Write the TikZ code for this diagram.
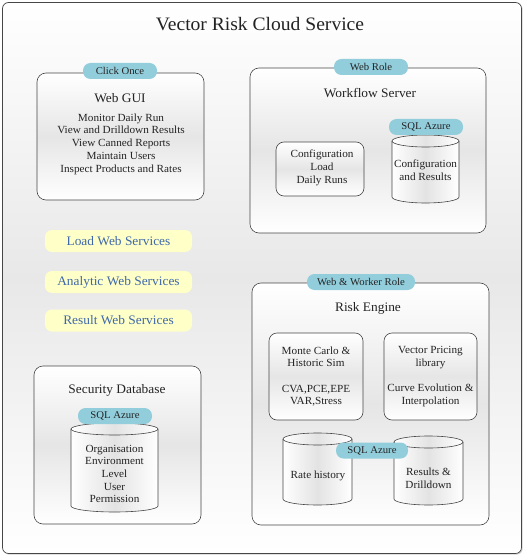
\documentclass[tikz,border=0pt]{standalone}
\usepackage{fontspec}
\setmainfont{Liberation Serif}[FakeStretch=1.03]
\usetikzlibrary{shadows}
\definecolor{pillblue}{RGB}{146,205,220}
\definecolor{svcyellow}{RGB}{255,255,200}
\definecolor{svcblue}{RGB}{62,104,170}
\definecolor{inkgray}{RGB}{35,35,35}
\definecolor{edgegray}{RGB}{70,70,70}
\tikzset{
  frame/.style={draw=edgegray, line width=0.7pt, rounded corners=6pt,
    top color=white, bottom color=white, middle color=gray!18,
    drop shadow={shadow xshift=1.2pt, shadow yshift=-1.2pt, opacity=0.35}},
  box/.style={draw=edgegray, line width=0.6pt, rounded corners=9pt,
    top color=white, bottom color=white, middle color=gray!20, inner sep=0pt},
  pill/.style={fill=pillblue, rounded corners=7.5pt, inner sep=0pt,
    text=inkgray, font=\fontsize{10.4}{12}\selectfont},
  svc/.style={fill=svcyellow, rounded corners=7pt, inner sep=0pt,
    text=svcblue, font=\fontsize{13}{15}\selectfont},
  ttl/.style={text=inkgray, font=\fontsize{13}{15}\selectfont, inner sep=0pt},
  body/.style={text=inkgray, font=\fontsize{10.9}{12.7}\selectfont, align=center, inner sep=0pt},
  cylline/.style={draw=edgegray, line width=0.6pt},
  cylfill/.style={left color=white, right color=white, middle color=gray!22}
}
% name, x centre, y top, y bottom, x radius
\newcommand\drawcylinder[5]{%
  \coordinate (#1) at (#2,{(#3+#4)/2});
  \path[cylline, cylfill] ({#2-#5},{#3+6}) arc[start angle=180, end angle=0, x radius=#5pt, y radius=6pt]
     -- ({#2+#5},{#4-6}) arc[start angle=360, end angle=180, x radius=#5pt, y radius=6pt] -- cycle;
  \draw[cylline] ({#2-#5},{#3+6}) arc[start angle=180, end angle=360, x radius=#5pt, y radius=6pt];
}
\begin{document}
\begin{tikzpicture}[x=1pt, y=-1pt]
\useasboundingbox (0,0) rectangle (524,556);
% outer frame
\node[frame, minimum width=519pt, minimum height=551pt, inner sep=0pt] (outer) at (262,278) {};
\node[text=inkgray, font=\fontsize{19}{22}\selectfont, inner sep=0pt] (title) at (260,24) {Vector Risk Cloud Service};

% Web GUI
\node[box, minimum width=167pt, minimum height=127pt] (webgui) at (120.5,136.5) {};
\node[pill, minimum width=74pt, minimum height=16pt] (clickonce) at (120,71) {Click Once};
\node[ttl] (webguititle) at (120,98) {Web GUI};
\node[body] (webguitext) at (121,144) {Monitor Daily Run\\View and Drilldown Results\\View Canned Reports\\Maintain Users\\Inspect Products and Rates};

% Workflow server
\node[box, minimum width=236pt, minimum height=165pt] (wfs) at (368,150.5) {};
\node[pill, minimum width=74pt, minimum height=16pt] (webrole) at (371,67) {Web Role};
\node[ttl] (wfstitle) at (370,93) {Workflow Server};
\node[box, rounded corners=8pt, minimum width=88pt, minimum height=54pt] (cfgbox) at (320,169) {};
\node[body] (cfgtext) at (322,168) {Configuration\\Load\\Daily Runs};
\drawcylinder{cfgcyl}{425.5}{135}{203}{33.5}
\node[pill, minimum width=74pt, minimum height=16pt] (sqlwfs) at (426,127) {SQL Azure};
\node[body] (cfgcyltext) at (425.5,170.5) {Configuration\\and Results};

% Web services
\node[svc, minimum width=147pt, minimum height=22pt] (loadws) at (118.5,241) {Load Web Services};
\node[svc, minimum width=147pt, minimum height=22pt] (analyticws) at (118.5,282) {Analytic Web Services};
\node[svc, minimum width=147pt, minimum height=22pt] (resultws) at (118.5,320.5) {Result Web Services};

% Security Database
\node[box, minimum width=167pt, minimum height=158pt] (secdb) at (117.5,445) {};
\node[ttl] (secdbtitle) at (117,390) {Security Database};
\drawcylinder{seccyl}{114.5}{423}{512}{43.5}
\node[pill, minimum width=74pt, minimum height=16pt] (sqlsec) at (115,416) {SQL Azure};
\node[body] (seccyltext) at (114.5,474) {Organisation\\Environment\\Level\\User\\Permission};

% Risk Engine
\node[box, minimum width=237pt, minimum height=242pt] (risk) at (370.5,404) {};
\node[pill, minimum width=108pt, minimum height=16pt] (webworker) at (361,282) {Web \& Worker Role};
\node[ttl] (risktitle) at (368,308) {Risk Engine};
\node[box, rounded corners=8pt, minimum width=94pt, minimum height=87pt] (mcbox) at (316,376.5) {};
\node[body] (mctext) at (316,376.5) {Monte Carlo \&\\Historic Sim\\[12.5pt]CVA,PCE,EPE\\VAR,Stress};
\node[box, rounded corners=8pt, minimum width=93pt, minimum height=87pt] (vpbox) at (430.5,376.5) {};
\node[body] (vptext) at (430.5,376.5) {Vector Pricing\\library\\[12.5pt]Curve Evolution \&\\Interpolation};
\drawcylinder{ratecyl}{317.5}{433}{505}{34.5}
\drawcylinder{rescyl}{428.5}{436}{505}{34.5}
\node[body] (ratetext) at (318,476) {Rate history};
\node[body] (restext) at (428.5,478.5) {Results \&\\Drilldown};
\node[pill, minimum width=72pt, minimum height=16pt] (sqlrisk) at (372,450.5) {SQL Azure};
\end{tikzpicture}
\end{document}
